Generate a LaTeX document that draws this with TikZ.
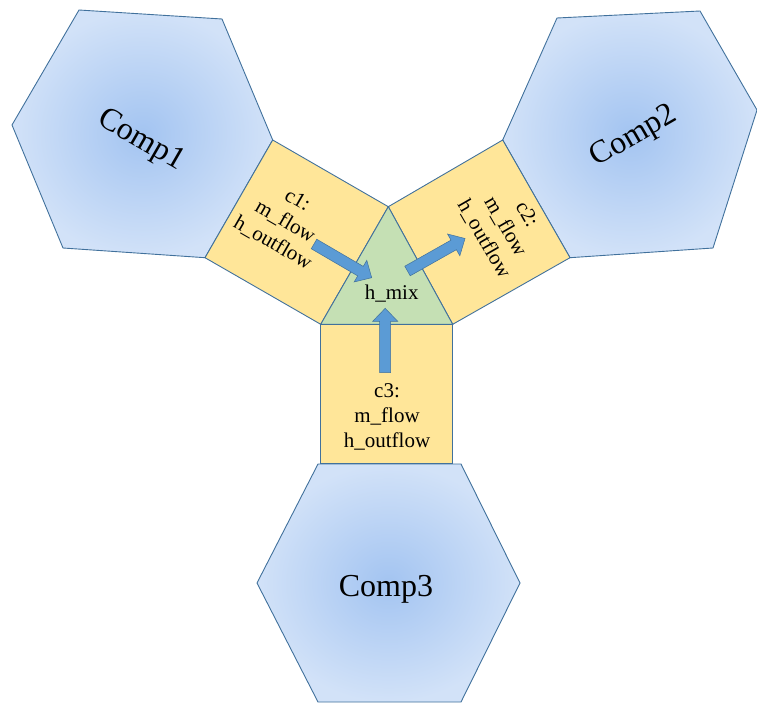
\documentclass[tikz,border=0pt]{standalone}
\usepackage{fontspec}
\setmainfont{Liberation Serif}
\usetikzlibrary{calc}
\definecolor{hexin}{HTML}{A3C4F1}
\definecolor{hexout}{HTML}{D2E2F8}
\definecolor{edgeblue}{HTML}{41719C}
\definecolor{portyellow}{HTML}{FFE699}
\definecolor{mixgreen}{HTML}{C5E0B4}
\definecolor{flowblue}{HTML}{5B9BD5}
\tikzset{
  comp/.style={draw=edgeblue, line width=0.9pt, inner color=hexin, outer color=hexout},
  port/.style={draw=edgeblue, line width=0.9pt, fill=portyellow},
  mixer/.style={draw=edgeblue, line width=0.9pt, fill=mixgreen},
  flow/.style={draw=edgeblue, line width=0.5pt, fill=flowblue},
  portlbl/.style={font=\fontsize{21}{24.7}\selectfont, align=center, inner sep=0pt},
  complbl/.style={font=\fontsize{32}{38}\selectfont, inner sep=0pt},
}
\newcommand{\FlowArrow}[3]{%
  \coordinate (#3) at ($(#2)!13pt!(#1)$);
  \draw[flow] ($(#1)!5.5pt!90:(#2)$) -- ($(#3)!5.5pt!90:(#2)$) -- ($(#3)!12.5pt!90:(#2)$)
    -- (#2) -- ($(#3)!12.5pt!-90:(#2)$) -- ($(#3)!5.5pt!-90:(#2)$) -- ($(#1)!5.5pt!-90:(#2)$) -- cycle;
}

\begin{document}
\begin{tikzpicture}[x=1pt, y=-1pt]
  \useasboundingbox (0,0) rectangle (757,706);
  \coordinate (T) at (388.3,206.7);
  \coordinate (L) at (320.7,324.3);
  \coordinate (R) at (452.7,324.3);
  \coordinate (p1a) at (205,257.7);
  \coordinate (p1b) at (272.7,140);
  \coordinate (p2a) at (502.7,140);
  \coordinate (p2b) at (570,257.7);
  \coordinate (p3a) at (452.7,463.3);
  \coordinate (p3b) at (320.7,463.3);

  \path[comp] (79,10) -- (222,19) -- (p1b) -- (p1a) -- (63,248) -- (12,125) -- cycle;
  \path[comp] (p2a) -- (557,18) -- (700,11) -- (757,110) -- (713,248) -- (p2b) -- cycle;
  \path[comp] (318,464) -- (461,464) -- (520,583) -- (461,702) -- (318,702) -- (257,583) -- cycle;

  \draw[port] (L) -- (T) -- (p1b) -- (p1a) -- cycle;
  \draw[port] (T) -- (R) -- (p2b) -- (p2a) -- cycle;
  \draw[port] (L) -- (R) -- (p3a) -- (p3b) -- cycle;
  \draw[mixer] (L) -- (T) -- (R) -- cycle;

  \coordinate (c1tail) at (314,244);
  \coordinate (c1tip) at (371.7,277.7);
  \coordinate (c2tail) at (407.5,271);
  \coordinate (c2tip) at (465,238.5);
  \coordinate (c3tail) at (385.2,372.7);
  \coordinate (c3tip) at (385.2,308.3);
  \FlowArrow{c1tail}{c1tip}{c1hb}
  \FlowArrow{c2tail}{c2tip}{c2hb}
  \FlowArrow{c3tail}{c3tip}{c3hb}

  \node[portlbl, rotate=-30] (c1lbl) at (285,222) {c1:\\m\_flow\\h\_outflow};
  \node[portlbl, rotate=-60] (c2lbl) at (505,227) {c2:\\m\_flow\\h\_outflow};
  \node[portlbl] (c3lbl) at (387,417) {c3:\\m\_flow\\h\_outflow};
  \node[portlbl, anchor=base] (mixlbl) at (391.7,299.3) {h\_mix};

  \foreach \n/\x/\y/\r in {Comp1/140.7/140.7/-30, Comp2/634/137/30, Comp3/386/589.5/0} {
    \node[complbl, rotate=\r] (\n) at (\x,\y) {\n};
  }
\end{tikzpicture}
\end{document}
